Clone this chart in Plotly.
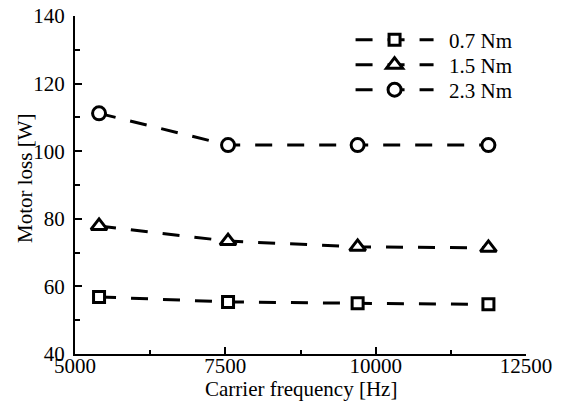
import plotly.graph_objects as go

freq = [5400, 7545, 9700, 11875]
loss_07 = [56.9, 55.4, 55.0, 54.7]
loss_15 = [77.9, 73.4, 71.7, 71.4]
loss_23 = [111.2, 101.8, 101.8, 101.8]
series_names = ["0.7 Nm", "1.5 Nm", "2.3 Nm"]
symbols = ["square", "triangle-up", "circle"]
marker_sizes = [11, 14, 13]

x_tickvals = [5000, 7500, 10000, 12500]
x_ticktext = ["5000", "7500", "10000", "12500"]
y_tickvals = [40, 60, 80, 100, 120, 140]
x_title = "Carrier frequency [Hz]"
y_title = "Motor loss [W]"

FONT = "Liberation Serif"
FS = 21

legend_ids = ["legend", "legend2", "legend3"]
legend_y = [0.929, 0.855, 0.781]

fig = go.Figure()
for name, vals, sym, ms, lid in zip(series_names, [loss_07, loss_15, loss_23],
                                    symbols, marker_sizes, legend_ids):
    fig.add_trace(go.Scatter(
        x=freq, y=vals, name="\u00a0\u00a0" + name, mode="lines+markers",
        legend=lid,
        line=dict(color="black", width=3, dash="17px,15px"),
        marker=dict(symbol=sym, size=ms, color="white",
                    line=dict(color="black", width=3)),
    ))

leg_common = dict(x=0.611, xanchor="left", yanchor="middle",
                  bgcolor="rgba(0,0,0,0)",
                  font=dict(family=FONT, size=FS, color="black"),
                  itemwidth=78)
layout_legends = {}
for lid, ly in zip(legend_ids, legend_y):
    layout_legends[lid] = dict(leg_common, y=ly)

fig.update_layout(
    width=561, height=403,
    margin=dict(l=75, r=35, t=16, b=49, autoexpand=False),
    paper_bgcolor="white", plot_bgcolor="white",
    font=dict(family=FONT, size=FS, color="black"),
    showlegend=True,
    **layout_legends,
    xaxis=dict(range=[5000, 12500], tickvals=x_tickvals, ticktext=x_ticktext,
               automargin=False,
               ticks="inside", ticklen=7, tickwidth=2, tickcolor="black",
               showline=True, linecolor="black", linewidth=2,
               showgrid=False, zeroline=False, ticklabelstandoff=-8,
               minor=dict(tickvals=[6250, 8750, 11250], ticks="inside",
                          ticklen=4, tickcolor="black", tickwidth=2),
               tickfont=dict(family=FONT, size=FS, color="black")),
    yaxis=dict(range=[40, 140], tickvals=y_tickvals,
               automargin=False,
               ticks="inside", ticklen=7, tickwidth=2, tickcolor="black",
               showline=True, linecolor="black", linewidth=2,
               showgrid=False, zeroline=False, ticklabelstandoff=4,
               minor=dict(tickvals=[50, 70, 90, 110, 130], ticks="inside",
                          ticklen=5, tickcolor="black", tickwidth=2),
               tickfont=dict(family=FONT, size=FS, color="black")),
    annotations=[
        dict(text=x_title, xref="paper", yref="paper", x=0.5, y=-0.1036,
             xanchor="center", yanchor="middle", showarrow=False,
             font=dict(family=FONT, size=FS, color="black")),
        dict(text=y_title, xref="paper", yref="paper", x=-0.1109, y=0.5207,
             xanchor="center", yanchor="middle", showarrow=False, textangle=-90,
             font=dict(family=FONT, size=FS, color="black")),
    ],
)

fig.write_html("out.html")
